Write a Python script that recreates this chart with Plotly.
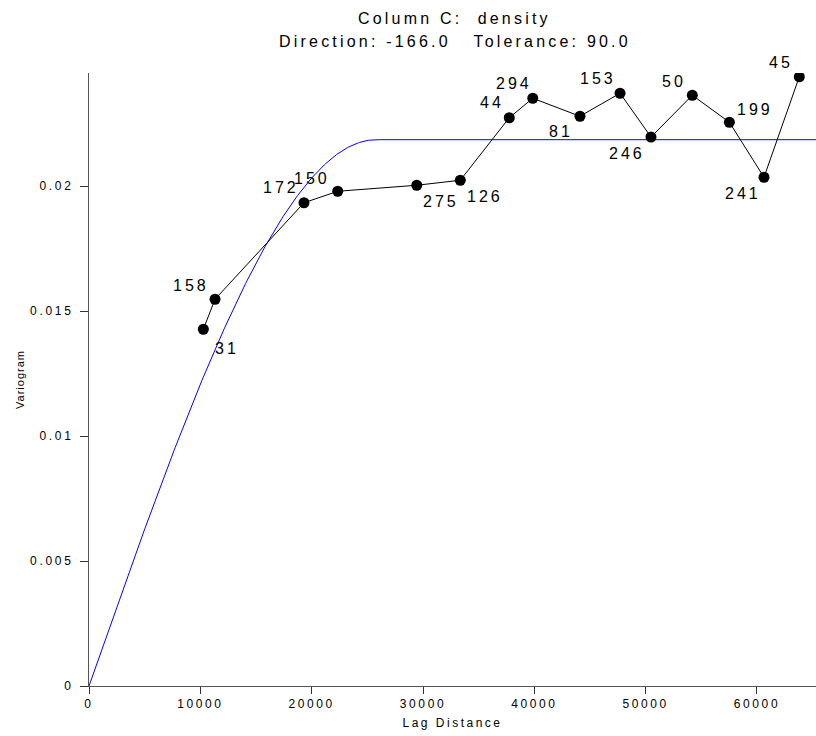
import numpy as np
import plotly.graph_objects as go

# Experimental variogram (lag distance, variogram value, pair count)
lag = [10270, 11320, 19310, 22340, 29440, 33350, 37750, 39860, 44100, 47700,
       50480, 54190, 57520, 60630, 63800]
gamma = [0.01427, 0.01547, 0.01933, 0.01979, 0.02003, 0.02023, 0.02273, 0.02351,
         0.02279, 0.02371, 0.02196, 0.02363, 0.02255, 0.02035, 0.02437]
pairs = ["31", "158", "172", "150", "275", "126", "44", "294", "81", "153",
         "246", "50", "199", "241", "45"]

# Spherical model parameters
model_sill = 0.021852
model_range = 25800.0

x_ticks = [0, 10000, 20000, 30000, 40000, 50000, 60000]
x_tick_text = ["0", "10000", "20000", "30000", "40000", "50000", "60000"]
y_ticks = [0, 0.005, 0.01, 0.015, 0.02]
y_tick_text = ["0", "0.005", "0.01", "0.015", "0.02"]

title_lines = ["Column C:  density", "Direction: -166.0   Tolerance: 90.0"]

# label offsets (pixels) for each point label: (dx, dy) with dy positive = up
label_offsets = [(22, -19), (-26, 14), (-24, 15), (-27, 13), (23, -16), (23, -16),
                 (-19, 15), (-20, 15), (-20, -15), (-24, 15), (-26, -16), (-20, 14),
                 (24, 13), (-23, -16), (-20, 14)]


def spaced(text, px):
    return '<span style="letter-spacing:%spx">%s</span>' % (px, text)


x_max = 65300
h = np.linspace(0, x_max, 600)
t = np.minimum(h / model_range, 1.0)
model = model_sill * (1.5 * t - 0.5 * t ** 3)

fig = go.Figure()
fig.add_trace(go.Scatter(x=h, y=model, mode="lines",
                         line=dict(color="#0000ff", width=1), hoverinfo="skip"))
fig.add_trace(go.Scatter(x=lag, y=gamma, mode="lines+markers",
                         line=dict(color="black", width=1),
                         marker=dict(color="black", size=11, symbol="circle")))

font = "Liberation Sans, Arial, sans-serif"
for x, y, txt, (dx, dy) in zip(lag, gamma, pairs, label_offsets):
    fig.add_annotation(x=x, y=y, text=spaced(txt, 3), showarrow=False,
                       xshift=dx + 1.5, yshift=dy,
                       font=dict(family=font, size=16, color="black"))

for line, shift in zip(title_lines, [55, 32]):
    fig.add_annotation(xref="paper", yref="paper", x=0.503, y=1, yanchor="middle",
                       text=spaced(line, 3.2), showarrow=False, yshift=shift,
                       font=dict(family=font, size=16, color="black"))

fig.update_layout(
    width=816, height=736,
    margin=dict(l=89, r=0, t=73, b=50),
    paper_bgcolor="white", plot_bgcolor="white",
    showlegend=False,
    font=dict(family=font, color="black"),
)
fig.update_xaxes(range=[0, x_max], tickvals=x_ticks,
                 ticktext=[spaced(s, 2.6) for s in x_tick_text],
                 showgrid=False, zeroline=False, showline=True, linecolor="#555555",
                 linewidth=1, ticks="outside", ticklen=7, tickcolor="#333333",
                 tickfont=dict(size=12, family=font),
                 title=dict(text=spaced("Lag Distance", 2.5),
                            font=dict(size=12, family=font), standoff=8))
fig.update_yaxes(range=[0, 0.02452], tickvals=y_ticks,
                 ticktext=[spaced(s, 2.7) for s in y_tick_text],
                 showgrid=False, zeroline=False, showline=True, linecolor="#555555",
                 linewidth=1, ticks="outside", ticklen=8, tickcolor="#333333",
                 ticklabelstandoff=4,
                 tickfont=dict(size=12, family=font),
                 title=dict(text=spaced("Variogram", 1),
                            font=dict(size=11, family=font), standoff=3))

fig.write_html("out.html")
